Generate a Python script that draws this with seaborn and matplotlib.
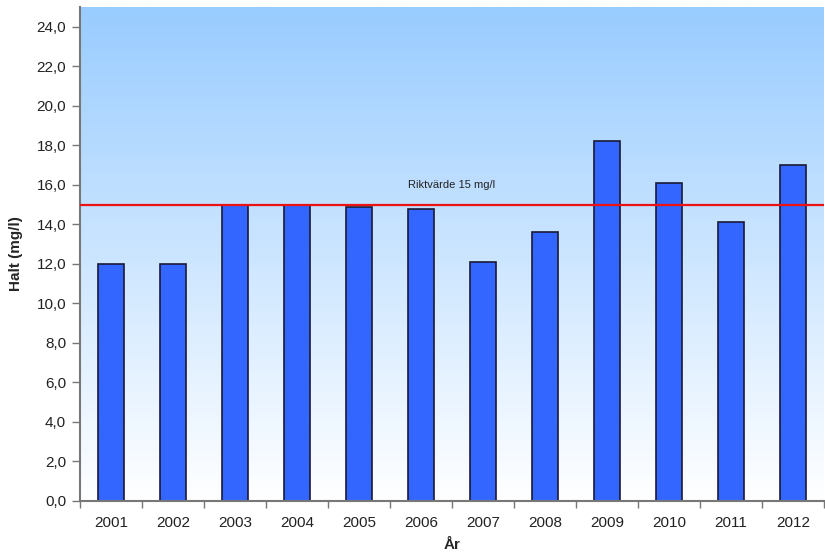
import numpy as np
import pandas as pd
import matplotlib
matplotlib.use("Agg")
import matplotlib.pyplot as plt
import seaborn as sns
from matplotlib.colors import LinearSegmentedColormap

years = ["2001", "2002", "2003", "2004", "2005", "2006", "2007", "2008", "2009", "2010", "2011", "2012"]
halt = [12.0, 12.0, 15.0, 15.0, 14.9, 14.8, 12.1, 13.6, 18.2, 16.1, 14.1, 17.0]
riktvarde = 15.0
riktvarde_label = "Riktvärde 15 mg/l"
yticks = [0, 2, 4, 6, 8, 10, 12, 14, 16, 18, 20, 22, 24]

sns.set_theme(style="white")
plt.rcParams['font.family'] = ['Liberation Sans', 'DejaVu Sans']

fig = plt.figure(figsize=(8.25, 5.58), dpi=100)
ax = fig.add_axes([80/825, 1-501/558, 744/825, (501-7)/558])

# gradient background
cmap = LinearSegmentedColormap.from_list("bg", ["#ffffff", "#99ccff"])
grad = np.linspace(0, 1, 256).reshape(-1, 1)
ax.imshow(grad, aspect="auto", cmap=cmap, origin="lower",
          extent=[-0.5, 11.5, 0, 25], zorder=0)

df = pd.DataFrame({"year": years, "halt": halt})
sns.barplot(data=df, x="year", y="halt", ax=ax, color="#3366ff",
            saturation=1, width=0.41, edgecolor="#1a1a33", linewidth=1.2, zorder=2)

ax.axhline(riktvarde, color="#ee1111", lw=1.6, zorder=3)
ax.text(5.5, riktvarde + 0.75, riktvarde_label, ha="center", va="bottom", fontsize=8, color="#222222")

ax.set_xlim(-0.5, 11.5)
ax.set_ylim(0, 25)
ax.set_yticks(yticks)
ax.set_yticklabels([f"{v:.1f}".replace(".", ",") for v in yticks], fontsize=11, color="#222222")
ax.set_xticks(range(len(years)))
ax.set_xticklabels(years, fontsize=11, color="#222222")
ax.set_xticks(np.arange(-0.5, 12, 1), minor=True)
ax.tick_params(axis="x", which="major", length=0, pad=11)
ax.tick_params(axis="x", which="minor", length=5, color="#777777", width=1, direction="out", bottom=True)
ax.tick_params(axis="y", which="major", length=6, color="#777777", width=1, direction="out", left=True, pad=4)

for s in ["top", "right"]:
    ax.spines[s].set_visible(False)
for s in ["left", "bottom"]:
    ax.spines[s].set_visible(True)
    ax.spines[s].set_color("#777777")
    ax.spines[s].set_linewidth(1.5)

ax.set_xlabel("År", fontsize=11, fontweight="bold")
ax.set_ylabel("Halt (mg/l)", fontsize=11, fontweight="bold")
ax.yaxis.set_label_coords(-0.077, 0.5)
ax.xaxis.set_label_coords(0.5, -0.074)
ax.grid(False)

fig.savefig("out.png", dpi=100)
